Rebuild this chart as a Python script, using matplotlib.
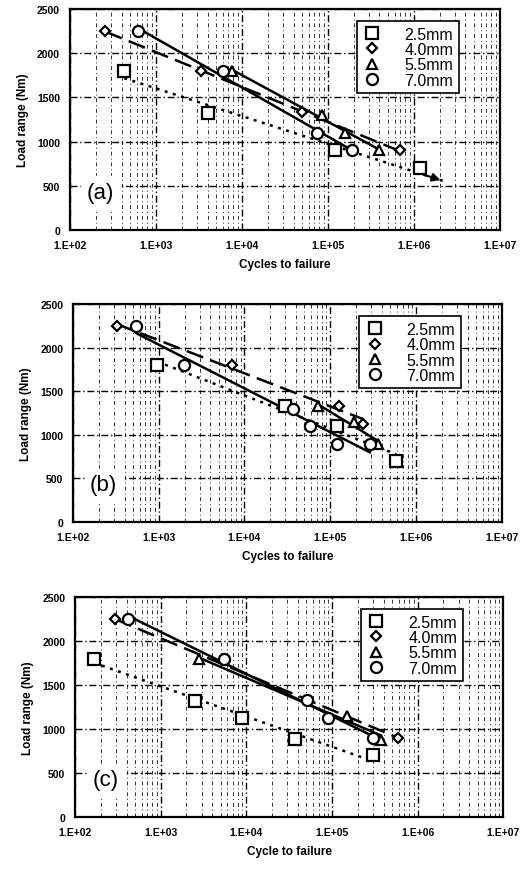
import numpy as np
import matplotlib
matplotlib.use("Agg")
import matplotlib.pyplot as plt
from matplotlib.ticker import FixedLocator, LogLocator, NullFormatter

plt.rcParams['font.family'] = ['Liberation Sans', 'DejaVu Sans']

series = ["2.5mm", "4.0mm", "5.5mm", "7.0mm"]
markers = ["s", "D", "^", "o"]
marker_sizes = [8, 5.5, 7.5, 8]
line_styles = [(0, (1.2, 2.2)), (0, (7, 3)), "-", "-"]

# panel (a)
a_x = {
    "2.5mm": [430, 4000, 1.2e5, 1.2e6],
    "4.0mm": [260, 3400, 5.0e4, 7.0e5],
    "5.5mm": [7800, 8.5e4, 1.6e5, 4.0e5],
    "7.0mm": [620, 6000, 7.6e4, 1.9e5],
}
a_y = {
    "2.5mm": [1800, 1320, 900, 700],
    "4.0mm": [2250, 1800, 1330, 900],
    "5.5mm": [1800, 1300, 1100, 900],
    "7.0mm": [2250, 1800, 1100, 900],
}
# panel (b)
b_x = {
    "2.5mm": [960, 3.0e4, 1.2e5, 5.9e5],
    "4.0mm": [325, 7100, 1.25e5, 2.4e5],
    "5.5mm": [7.2e4, 1.9e5, 3.6e5],
    "7.0mm": [550, 1950, 3.7e4, 5.8e4, 1.2e5, 2.9e5],
}
b_y = {
    "2.5mm": [1800, 1330, 1100, 700],
    "4.0mm": [2250, 1800, 1330, 1130],
    "5.5mm": [1330, 1150, 900],
    "7.0mm": [2250, 1800, 1300, 1100, 900, 900],
}
# panel (c)
c_x = {
    "2.5mm": [166, 2500, 9000, 3.7e4, 3.0e5],
    "4.0mm": [292, 5.9e5],
    "5.5mm": [2800, 1.5e5, 3.7e5],
    "7.0mm": [420, 5500, 5.1e4, 9.0e4, 3.0e5],
}
c_y = {
    "2.5mm": [1800, 1320, 1130, 890, 700],
    "4.0mm": [2250, 900],
    "5.5mm": [1800, 1150, 880],
    "7.0mm": [2250, 1800, 1330, 1130, 900],
}

x_ticks = [1e2, 1e3, 1e4, 1e5, 1e6, 1e7]
x_tick_labels = ["1.E+02", "1.E+03", "1.E+04", "1.E+05", "1.E+06", "1.E+07"]
y_ticks = [0, 500, 1000, 1500, 2000, 2500]

panels = [
    ("(a)", a_x, a_y, "Cycles to failure", {"2.5mm": 2.2e6}),
    ("(b)", b_x, b_y, "Cycles to failure", {}),
    ("(c)", c_x, c_y, "Cycle to failure", {}),
]

fig = plt.figure(figsize=(5.21, 8.70), dpi=100)
rects = [
    [0.134, 0.7345, 0.825, 0.254],
    [0.140, 0.399, 0.823, 0.250],
    [0.144, 0.0598, 0.822, 0.2528],
]

for rect, (tag, px, py, xlab, ext) in zip(rects, panels):
    ax = fig.add_axes(rect)
    ax.set_xscale("log")
    ax.set_xlim(1e2, 1e7)
    ax.set_ylim(0, 2500)

    # grid like the scanned original
    ax.xaxis.set_major_locator(FixedLocator(x_ticks))
    ax.xaxis.set_minor_locator(LogLocator(base=10, subs=np.arange(2, 10)))
    ax.xaxis.set_minor_formatter(NullFormatter())
    ax.set_xticklabels(x_tick_labels)
    ax.set_yticks(y_ticks)
    ax.grid(True, which="major", axis="x", color="black", lw=1.0, ls=(0, (5, 2, 1, 2)))
    ax.grid(True, which="minor", axis="x", color="black", lw=0.7, ls=(0, (4, 3, 1, 3)), alpha=0.8)
    ax.grid(True, which="major", axis="y", color="black", lw=1.0, ls=(0, (5, 2, 1, 2)))
    ax.set_axisbelow(True)
    ax.tick_params(which="both", length=0)
    ax.tick_params(axis="both", labelsize=7.5, pad=7)
    for lab in ax.get_xticklabels() + ax.get_yticklabels():
        lab.set_fontweight("bold")
    for sp in ax.spines.values():
        sp.set_linewidth(1.6)

    for name, m, ms, ls in zip(series, markers, marker_sizes, line_styles):
        x = np.array(px[name], dtype=float)
        y = np.array(py[name], dtype=float)
        # logarithmic trend line (straight on the semi-log axes)
        k, b = np.polyfit(np.log10(x), y, 1)
        x_end = ext.get(name, x.max())
        xs = np.logspace(np.log10(x.min()), np.log10(x_end), 100)
        ys = b + k * np.log10(xs)
        ax.plot(xs, ys, color="black", lw=1.8, ls=ls, zorder=3)
        if name in ext:
            ax.annotate("", xy=(xs[-1], ys[-1]), xytext=(xs[-8], ys[-8]),
                        arrowprops=dict(arrowstyle="-|>", color="black", lw=1.5,
                                        mutation_scale=12), zorder=4)
        ax.plot(x, y, ls="none", marker=m, ms=ms, mfc="white", mec="black",
                mew=1.6, label=name, zorder=5)

    leg = ax.legend(loc="upper right", bbox_to_anchor=(0.905, 0.945), fontsize=11.5,
                    frameon=True, fancybox=False, edgecolor="black",
                    handlelength=1.2, handletextpad=1.4, borderpad=0.35,
                    labelspacing=0.02, borderaxespad=0)
    leg.get_frame().set_linewidth(1.2)
    leg.get_frame().set_alpha(1)

    ax.text(0.04, 0.17, tag, transform=ax.transAxes, fontsize=16, va="center",
            ha="left", backgroundcolor="white", zorder=6)
    ax.set_xlabel(xlab, fontsize=8.5, fontweight="bold", labelpad=6)
    ax.set_ylabel("Load range (Nm)", fontsize=8.5, fontweight="bold", labelpad=6)

fig.savefig("out.png", dpi=100)
